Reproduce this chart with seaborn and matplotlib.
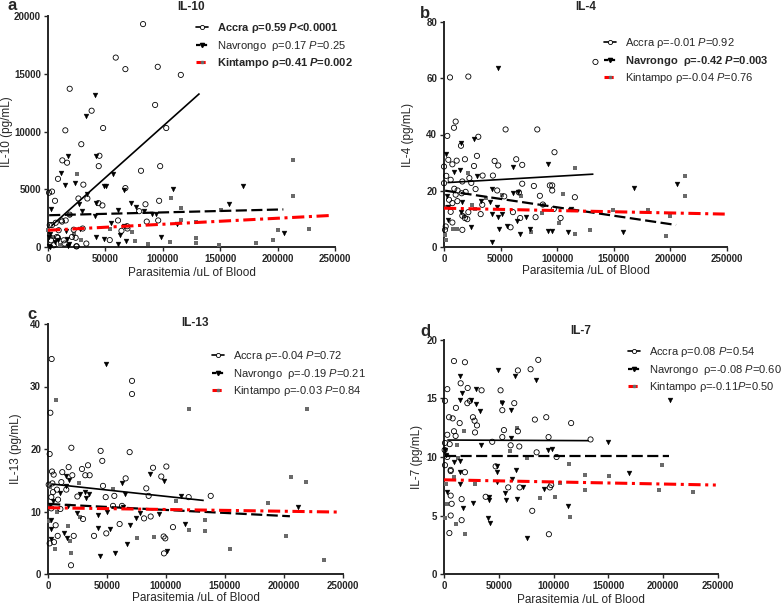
import seaborn as sns
import matplotlib.pyplot as plt
import numpy as np
import pandas as pd
from matplotlib.lines import Line2D

# ---------------- data ----------------
sites = ['Accra', 'Navrongo', 'Kintampo']

# IL-10
il10_accra_x = [82800, 59000, 67400, 95600, 115700, 18900, 38000, 93300, 15100, 48000,
                103000, 29000, 12500, 16600, 44800, 44200, 81000, 97700, 8700, 30800,
                3500, 900, 6100, 34300, 26500, 67400, 43900, 47400, 84900, 96800,
                79400, 61000, 96000, 86000, 68900, 69200, 64000, 1500, 6700, 11600,
                15400, 18900, 22400, 30200, 24100, 53800, 33400, 25000, 14500, 8700,
                2600, 7800, 13700, 24700, 5000, 9300, 3500, 12200, 20900]
il10_accra_y = [19300, 16400, 15400, 15600, 14900, 13700, 11800, 12300, 10100, 10300,
                10300, 8900, 7500, 7300, 7900, 7000, 6600, 7000, 5900, 5400,
                4800, 4700, 4000, 4200, 4200, 5100, 3800, 3600, 3700, 4000,
                3100, 2300, 2300, 2200, 1800, 1600, 1400, 1900, 2100, 2300,
                2300, 2800, 1500, 1600, 800, 600, 300, 60, 300, 800,
                580, 870, 580, 60, 150, 1450, 1900, 2200, 870]
il10_navrongo_x = [40700, 32800, 17400, 42200, 11600, 56700, 15100, 23800, 49100, 50900,
                   109000, 169500, 66200, 34000, 42200, 72000, 76500, 157900, 2900, 26700,
                   29400, 61300, 84000, 91000, 93900, 41300, 112800, 206000, 27600, 55200,
                   66200, 62800, 42200, 98800, 48800, 67700, 61300, 16000, 17400, 8700,
                   900, 1500, 2100, 6400, 16500, 18000, 600]
il10_navrongo_y = [13200, 11300, 7900, 7900, 6400, 6300, 5400, 5500, 5300, 5300,
                   5000, 5300, 4900, 4600, 3800, 3800, 3500, 3700, 3300, 3700,
                   3100, 3200, 3100, 2900, 2900, 2700, 2000, 1200, 1600, 2100,
                   1800, 1000, 900, 900, 700, 500, 300, 1400, 60, 600,
                   900, 0, 1160, 430, 730, 300, 60]
il10_kintampo_x = [213000, 213700, 107000, 115700, 115700, 150600, 129000, 129000, 129000, 200000,
                   227600, 181000, 196000, 149000, 106000, 87000, 75600, 73500, 53800, 28500,
                   25600, 18900, 4400, 10800, 22400, 0]
il10_kintampo_y = [7500, 4400, 4200, 3400, 2300, 3200, 2200, 800, 350, 1500,
                   1600, 350, 600, 150, 400, 300, 500, 1300, 1600, 600,
                   6300, 2800, 870, 150, 1160, 1450]

# IL-4
il4_accra_x = [5300, 21500, 133800, 10300, 8800, 2900, 30300, 54400, 82400, 15000,
               97600, 3800, 11200, 18500, 29100, 7400, 44700, 47900, 63800, 69100,
               26500, 0, 2000, 5900, 34100, 43200, 22400, 24100, 0, 69100,
               79400, 93500, 95600, 95600, 16200, 9100, 12000, 27900, 47000, 66200,
               4400, 10300, 15600, 19100, 53200, 84700, 115600, 7400, 11800, 33800,
               5900, 21500, 32400, 16200, 60900, 87300, 97000, 18500, 20600, 67300,
               80900, 103000, 7400, 16200, 58800, 1500, 900]
il4_accra_y = [60.3, 60.6, 65.8, 44.6, 42.4, 39.5, 39.2, 41.8, 41.8, 36.0,
               33.7, 31.0, 30.7, 31.2, 32.4, 29.4, 30.6, 29.0, 31.2, 29.2,
               28.8, 28.6, 25.3, 23.9, 25.4, 25.4, 24.5, 22.8, 22.7, 22.5,
               21.7, 21.9, 21.9, 20.1, 23.3, 20.7, 20.1, 20.6, 20.1, 19.4,
               16.8, 18.6, 19.1, 19.6, 18.0, 18.2, 17.7, 15.6, 16.3, 15.0,
               12.5, 12.4, 11.7, 11.1, 12.4, 15.1, 13.5, 10.3, 9.9, 10.3,
               10.6, 10.3, 8.7, 6.1, 7.0, 7.3, 6.1]
il4_navrongo_x = [47900, 14700, 26500, 1500, 92000, 61200, 14400, 9100, 29400, 42100,
                  65300, 60900, 168000, 205900, 2400, 15600, 32400, 40600, 47000, 3500,
                  14700, 42600, 51500, 72000, 47900, 3200, 64700, 55300, 23800, 75900,
                  48500, 91500, 95600, 109400, 157900, 66800, 42100, 112600]
il4_navrongo_y = [63.6, 36.9, 38.3, 33.1, 29.4, 28.6, 27.4, 26.6, 25.1, 20.6,
                  19.5, 19.1, 20.9, 22.3, 18.0, 16.1, 16.5, 16.1, 14.4, 14.1,
                  12.3, 11.8, 11.8, 10.6, 10.6, 9.5, 9.1, 7.3, 7.1, 6.4,
                  6.4, 5.8, 5.8, 5.2, 5.2, 4.5, 1.8, 13.6]
il4_kintampo_x = [213000, 213000, 115600, 105300, 88200, 102000, 115600, 129400, 149400, 180300,
                  199400, 196200, 76500, 86800, 67600, 51500, 21500, 25000, 27400, 17600,
                  11800, 8200, 1500, 900, 2900, 36800]
il4_kintampo_y = [25.1, 18.3, 28.0, 18.9, 15.0, 8.7, 4.6, 6.1, 13.2, 13.0,
                  10.9, 3.8, 5.2, 12.1, 18.0, 18.6, 26.2, 15.0, 13.6, 10.9,
                  6.5, 6.5, 2.6, 4.4, 14.4, 17.4]

# IL-13
il13_accra_x = [3100, 2000, 71200, 71200, 19800, 44600, 69200, 1400, 46000, 33900,
                17500, 89000, 100300, 3400, 4800, 20600, 31600, 35300, 12100, 96000,
                65800, 28800, 600, 3700, 11300, 46600, 83300, 4200, 7600, 15500,
                48900, 56200, 85300, 119200, 137900, 24900, 2800, 8500, 10500, 55100,
                62700, 2800, 29700, 81400, 87000, 6500, 60700, 105900, 49400, 8200,
                21800, 39000, 98000, 99400, 5100, 1400, 98300, 19500]
il13_accra_y = [34.4, 25.8, 30.9, 28.8, 20.2, 19.7, 19.5, 19.2, 18.1, 17.4,
                17.1, 17.0, 17.2, 16.4, 15.9, 15.8, 15.8, 15.8, 16.3, 15.6,
                15.3, 16.8, 14.3, 14.5, 14.7, 14.1, 13.7, 13.1, 13.5, 13.5,
                12.3, 12.5, 12.5, 12.3, 12.5, 12.4, 12.3, 11.9, 10.4, 10.9,
                10.9, 10.5, 8.8, 8.9, 9.2, 7.8, 8.0, 7.5, 6.5, 6.1,
                6.1, 6.1, 6.0, 5.7, 5.1, 4.9, 3.3, 1.4]
il13_navrongo_x = [49400, 86700, 98300, 17800, 15000, 62700, 15500, 31100, 34700, 26800,
                   31900, 10500, 65000, 112400, 2000, 4200, 17000, 24900, 50300, 63600,
                   78300, 94100, 42400, 74300, 115800, 211900, 2300, 13600, 42700, 52300,
                   69200, 16400, 2800, 67200, 56800, 43800, 101100, 2300]
il13_navrongo_y = [33.6, 16.0, 14.9, 15.1, 15.7, 14.5, 14.1, 13.2, 12.8, 12.8,
                   12.1, 12.9, 12.8, 12.5, 11.1, 11.7, 10.9, 9.8, 9.9, 10.8,
                   9.8, 9.6, 9.5, 8.9, 8.0, 10.8, 8.7, 6.5, 7.4, 7.2,
                   7.8, 5.7, 7.2, 4.8, 3.3, 2.9, 3.7, 5.6]
il13_kintampo_x = [6500, 119200, 219500, 219000, 205700, 186500, 201400, 154500, 233600, 119200,
                   132800, 132800, 108800, 89600, 75700, 55100, 26000, 19800, 5600, 17000,
                   800, 1400, 18400, 7900, 26800]
il13_kintampo_y = [27.9, 26.4, 26.4, 14.8, 15.6, 11.3, 6.1, 4.0, 2.2, 7.0,
                   6.9, 8.7, 11.7, 6.0, 5.8, 13.6, 14.5, 3.3, 4.0, 7.7,
                   8.5, 13.9, 5.3, 10.0, 9.1]

# IL-7
il7_accra_x = [9100, 19100, 86000, 67400, 79000, 3000, 900, 15200, 21600, 34300,
               51600, 21300, 23700, 64100, 53200, 10900, 4600, 7900, 26400, 27900,
               30100, 82900, 93300, 116000, 14300, 9100, 28300, 54700, 67400, 3000,
               10600, 900, 5200, 53200, 95400, 133700, 44000, 60800, 68700, 600,
               3000, 84500, 102700, 47100, 6100, 6100, 19100, 900, 58600, 69000,
               96600, 97800, 6100, 7000, 16100, 38000, 80500, 6100, 16100, 4900,
               95700]
il7_accra_y = [18.2, 18.1, 18.3, 17.4, 17.5, 15.8, 14.8, 16.3, 15.9, 15.7,
               15.7, 14.6, 14.8, 14.6, 14.0, 14.2, 13.4, 13.3, 13.4, 13.1,
               12.7, 13.2, 13.4, 12.9, 12.9, 12.2, 12.1, 12.3, 12.2, 11.9,
               11.8, 11.2, 11.1, 11.7, 11.7, 11.5, 11.3, 11.0, 10.9, 10.6,
               10.0, 10.4, 10.0, 9.2, 8.9, 8.8, 8.7, 9.3, 7.4, 7.4,
               7.4, 7.6, 6.7, 6.0, 6.4, 6.6, 5.4, 5.0, 4.6, 3.5,
               3.4]
il7_navrongo_x = [49200, 14600, 64700, 83800, 16100, 14300, 206000, 24300, 28900, 29500,
                  53200, 60800, 32800, 61400, 150000, 33400, 98100, 95100, 900, 1500,
                  9100, 14600, 48600, 65300, 14600, 48600, 169200, 14600, 62300, 48300,
                  91100, 2400, 55300, 71700, 26700, 41000, 41300, 56800, 66500, 17600,
                  113000, 39800, 42200, 75900]
il7_navrongo_y = [17.4, 16.9, 16.9, 16.6, 15.5, 14.9, 14.9, 14.9, 14.5, 15.8,
                  14.6, 14.0, 13.9, 11.6, 11.3, 11.0, 10.7, 10.6, 10.6, 10.2,
                  9.6, 9.7, 9.2, 8.9, 8.7, 8.7, 8.6, 7.7, 8.1, 7.9,
                  7.3, 7.0, 6.9, 7.4, 6.1, 6.6, 6.3, 6.3, 6.4, 5.6,
                  5.8, 4.8, 4.4, 3.1]
il7_kintampo_x = [18200, 53200, 66800, 12200, 113900, 199000, 150700, 128500, 105700, 75300,
                  60100, 13100, 28000, 2100, 9100, 87500, 100900, 129000, 196600, 227200,
                  114800, 11200, 900, 19100, 2400]
il7_kintampo_y = [12.2, 14.7, 12.5, 11.0, 9.4, 9.3, 8.4, 8.5, 7.8, 9.9,
                  10.5, 9.9, 7.7, 7.7, 8.3, 6.5, 6.6, 7.2, 7.2, 7.0,
                  4.9, 4.3, 4.8, 3.4, 6.0]

# linear fits (intercept, slope) per panel, IL-10 / IL-4 / IL-13 / IL-7
accra_fit_b0 = [1567, 22.83, 14.46, 11.45]
accra_fit_b1 = [0.0888, 2.33e-5, -2.04e-5, -4e-7]
navrongo_fit_b0 = [2748, 20.09, 11.21, 10.1]
navrongo_fit_b1 = [0.00247, -5.98e-5, -9.6e-6, 0.0]
kintampo_fit_b0 = [1450, 13.8, 10.6, 8.05]
kintampo_fit_b1 = [0.0052, -8.45e-6, -2.8e-6, -1.8e-6]
fit_xrange = {'Accra': (3000, 132000), 'Navrongo': (1000, 205000), 'Kintampo': (0, 248000)}

cytokines = ['IL-10', 'IL-4', 'IL-13', 'IL-7']
ylabels = ['IL-10 (pg/mL)', 'IL-4 (pg/mL)', 'IL-13 (pg/mL)', 'IL-7 (pg/mL)']
ytop = [20000, 80, 40, 20]
ystep = [5000, 20, 10, 5]
rho = [['0.59', '0.17', '0.41'], ['-0.01', '-0.42', '-0.04'],
       ['-0.04', '-0.19', '-0.03'], ['0.08', '-0.08', '-0.11']]
pval = [['<0.0001', '=0.25', '=0.002'], ['=0.92', '=0.003', '=0.76'],
        ['=0.72', '=0.21', '=0.84'], ['=0.54', '=0.60', '=0.50']]
bold = [[True, False, True], [False, True, False],
        [False, False, False], [False, False, False]]

# ---------------- styling ----------------
sns.set_style("ticks")
plt.rcParams['font.family'] = ['Liberation Sans', 'DejaVu Sans']
plt.rcParams['mathtext.fontset'] = 'custom'
plt.rcParams['mathtext.rm'] = 'Liberation Sans'
plt.rcParams['mathtext.it'] = 'Liberation Sans:italic'
plt.rcParams['mathtext.bf'] = 'Liberation Sans:bold'
has_bfit = 'mathtext.bfit' in plt.rcParams
if has_bfit:
    plt.rcParams['mathtext.bfit'] = 'Liberation Sans:bold:italic'

panel_data = [
    (il10_accra_x, il10_accra_y, il10_navrongo_x, il10_navrongo_y, il10_kintampo_x, il10_kintampo_y),
    (il4_accra_x, il4_accra_y, il4_navrongo_x, il4_navrongo_y, il4_kintampo_x, il4_kintampo_y),
    (il13_accra_x, il13_accra_y, il13_navrongo_x, il13_navrongo_y, il13_kintampo_x, il13_kintampo_y),
    (il7_accra_x, il7_accra_y, il7_navrongo_x, il7_navrongo_y, il7_kintampo_x, il7_kintampo_y),
]

W, H = 784, 606
# axes boxes in pixels: left, top, right, bottom
boxes = [(48, 16, 335, 247), (444, 22, 727, 247), (48, 324, 343, 574), (444, 340, 718, 574)]
title_y = [1.039, 1.065, 1.004, 1.037]
ylab_x = [-0.122, -0.106, -0.088, -0.077]
xlab_y = [-0.087, -0.080, -0.072, -0.085]
letters = ['a', 'b', 'c', 'd']
letter_pos = [(8, 6), (420, 13), (27, 314), (420, 331)]
legend_pos = [(196, 21), (604, 36), (212, 349), (628, 345)]

red = '#ff0000'
grey = '#6a6a6a'
styles = {
    'Accra': dict(lw=1.2, color='black', dashes=None),
    'Navrongo': dict(lw=1.6, color='black', dashes=(5, 2)),
    'Kintampo': dict(lw=2.2, color=red, dashes=(4, 1.5, 1, 1.5)),
}

fig = plt.figure(figsize=(W / 100, H / 100), dpi=100)

for i, name in enumerate(cytokines):
    l, t, r, b = boxes[i]
    ax = fig.add_axes([l / W, 1 - b / H, (r - l) / W, (b - t) / H])
    ax_x, ax_y, nv_x, nv_y, kt_x, kt_y = panel_data[i]

    sns.scatterplot(x=kt_x, y=kt_y, ax=ax, marker='s', s=5, color=grey,
                    edgecolor=grey, linewidth=0, legend=False, clip_on=False, zorder=3)
    sns.scatterplot(x=nv_x, y=nv_y, ax=ax, marker='v', s=12, color='black',
                    edgecolor='black', linewidth=0.3, legend=False, clip_on=False, zorder=3)
    sns.scatterplot(x=ax_x, y=ax_y, ax=ax, marker='o', s=14, facecolor='none',
                    edgecolor='black', linewidth=0.6, legend=False, clip_on=False, zorder=3)

    fits = {'Accra': (accra_fit_b0[i], accra_fit_b1[i]),
            'Navrongo': (navrongo_fit_b0[i], navrongo_fit_b1[i]),
            'Kintampo': (kintampo_fit_b0[i], kintampo_fit_b1[i])}
    for site in sites:
        b0, b1 = fits[site]
        xr = np.array(fit_xrange[site])
        st = styles[site]
        ln, = ax.plot(xr, b0 + b1 * xr, color=st['color'], lw=st['lw'], zorder=4,
                      solid_capstyle='butt', dash_capstyle='butt')
        if st['dashes'] is not None:
            ln.set_dashes(st['dashes'])

    ax.set_xlim(0, 250000)
    ax.set_ylim(0, ytop[i])
    ax.set_xticks(np.arange(0, 250001, 50000))
    ax.set_yticks(np.arange(0, ytop[i] + 1e-9, ystep[i]))
    ax.set_xticklabels([f'{v:d}' for v in range(0, 250001, 50000)])
    if ytop[i] >= 100:
        ax.set_yticklabels([f'{int(v)}' for v in np.arange(0, ytop[i] + 1, ystep[i])])
    for sp in ['top', 'right']:
        ax.spines[sp].set_visible(False)
    for sp in ['left', 'bottom']:
        ax.spines[sp].set_linewidth(1.4)
    ax.tick_params(axis='both', direction='out', length=3, width=1.0, labelsize=7, pad=2)
    for lab in ax.get_xticklabels() + ax.get_yticklabels():
        lab.set_fontweight('bold')

    ax.set_xlabel('Parasitemia /uL of Blood', fontsize=8.5)
    ax.set_ylabel(ylabels[i], fontsize=8.5)
    ax.xaxis.set_label_coords(0.5, xlab_y[i])
    ax.yaxis.set_label_coords(ylab_x[i], 0.5)
    ax.text(0.5, title_y[i], name, transform=ax.transAxes, ha='center', va='center',
            fontsize=8.5, fontweight='bold')
    fig.text(letter_pos[i][0] / W, 1 - letter_pos[i][1] / H, letters[i],
             ha='left', va='center', fontsize=12, fontweight='bold')

    # legend
    handles = [
        Line2D([0], [0], color='black', lw=1.2, marker='o', ms=3, mfc='white', mec='black', mew=0.6),
        Line2D([0], [0], color='black', lw=1.6, dashes=(2, 1), marker='v', ms=3, mfc='black', mec='black'),
        Line2D([0], [0], color=red, lw=2.2, dashes=(3, 1.2, 0.8, 1.2), marker='s', ms=2, mfc=grey, mec=grey),
    ]
    labels = []
    for k, site in enumerate(sites):
        gap = '  ' if site == 'Navrongo' else ' '
        sep = '' if (i == 3 and site == 'Kintampo') else ' '
        ptag = r'$\mathbfit{P}$' if (bold[i][k] and has_bfit) else r'$\mathit{P}$'
        labels.append(f'{site}{gap}\u03c1={rho[i][k]}{sep}{ptag}{pval[i][k]}')
    lx, ly = legend_pos[i]
    leg = ax.legend(handles, labels, loc='upper left', bbox_to_anchor=(lx / W, 1 - ly / H),
                    bbox_transform=fig.transFigure, frameon=False, fontsize=8,
                    borderpad=0, borderaxespad=0, handlelength=1.05, handletextpad=0.85,
                    labelspacing=0.33, numpoints=1)
    for k, txt in enumerate(leg.get_texts()):
        if bold[i][k]:
            txt.set_fontweight('bold')

fig.savefig('out.png', dpi=100)
